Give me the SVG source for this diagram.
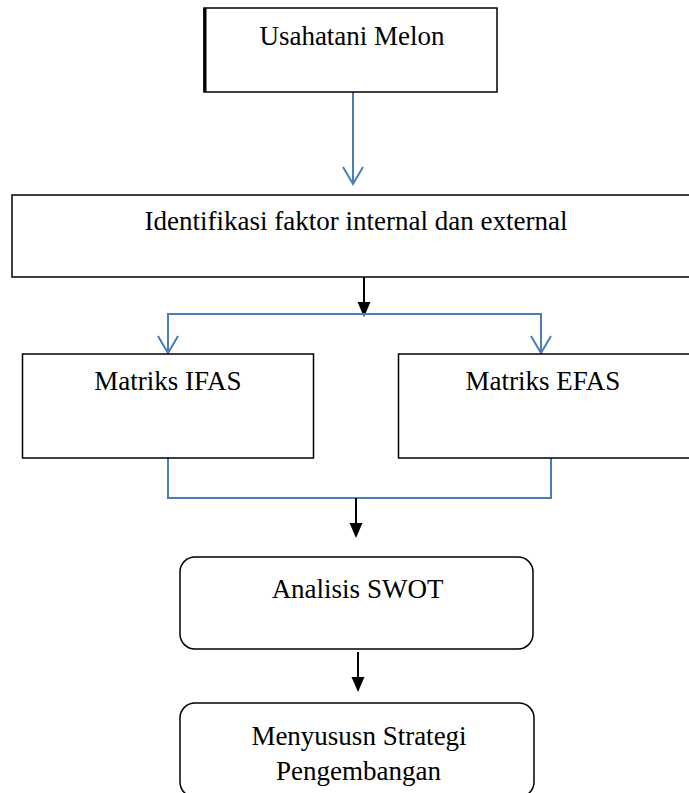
<svg xmlns="http://www.w3.org/2000/svg" width="689" height="793" viewBox="0 0 689 793">
<style>
.box{fill:#fff;stroke:#000;stroke-width:1.5}
.t{font-family:"Liberation Serif","Times New Roman",serif;font-size:27px;fill:#000;text-anchor:middle}
.blue{stroke:#4a7ebb;stroke-width:2;fill:none}
.blk{stroke:#000;stroke-width:2;fill:none}
.head{fill:#000;stroke:none}
</style>
<rect width="689" height="793" fill="#fff"/>
<g id="connectors">
<line class="blue" x1="353" y1="92" x2="353" y2="184"/>
<path class="blue" d="M343,167 L353,184 L363,167"/>
<line class="blk" x1="364" y1="277" x2="364" y2="305"/>
<path class="head" d="M357.5,302 L370.5,302 L364,317 Z"/>
<polyline class="blue" points="168,353 168,314 541,314 541,353"/>
<path class="blue" d="M158,336 L168,353 L178,336 M531,336 L541,353 L551,336"/>
<polyline class="blue" points="168,458 168,498 551,498 551,458"/>
<line class="blk" x1="356" y1="498" x2="356" y2="526"/>
<path class="head" d="M349.5,523 L362.5,523 L356,538 Z"/>
<line class="blk" x1="358" y1="652" x2="358" y2="680"/>
<path class="head" d="M351.5,677 L364.5,677 L358,692 Z"/>
</g>
<g id="n1">
<rect class="box" x="204" y="8" width="293" height="84"/>
<line x1="205" y1="8" x2="205" y2="92" stroke="#000" stroke-width="3"/>
<text class="t" x="352" y="45">Usahatani Melon</text>
</g>
<g id="n2">
<rect class="box" x="12" y="195" width="700" height="82"/>
<text class="t" x="356" y="230">Identifikasi faktor internal dan external</text>
</g>
<g id="n3">
<rect class="box" x="22.5" y="354" width="291" height="104"/>
<text class="t" x="168" y="390">Matriks IFAS</text>
</g>
<g id="n4">
<rect class="box" x="398.5" y="354" width="300" height="104"/>
<text class="t" x="543" y="390">Matriks EFAS</text>
</g>
<g id="n5">
<rect class="box" x="180" y="557" width="353" height="92" rx="15" ry="15"/>
<text class="t" x="357.5" y="598">Analisis SWOT</text>
</g>
<g id="n6">
<rect class="box" x="180" y="703" width="354" height="94" rx="15" ry="15"/>
<text class="t" x="359" y="745">Menyususn Strategi</text>
<text class="t" x="358.5" y="780">Pengembangan</text>
</g>
</svg>
